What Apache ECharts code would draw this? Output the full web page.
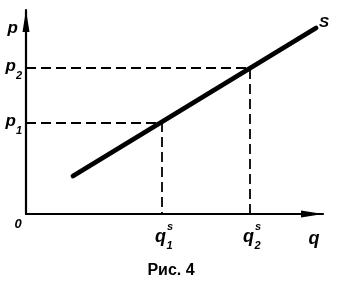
<!DOCTYPE html>
<html>
<head>
<meta charset="utf-8">
<script src="https://cdn.jsdelivr.net/npm/echarts@6/dist/echarts.min.js"></script>
<style>
html,body{margin:0;padding:0;background:#fff;}
#chart{width:342px;height:285px;}
</style>
</head>
<body>
<div id="chart"></div>
<script>
// Supply curve S (q, p)
var supplyQ = [47, 290];
var supplyP = [38, 186];
// Marked points on the supply curve
var qValues = [136, 224];
var pValues = [91, 146];
var pLabels = ['1', '2'];
var qLabels = ['1', '2'];
var titleText = 'Рис. 4';

var FONT = 'Liberation Sans';
var chart = echarts.init(document.getElementById('chart'), null, {renderer: 'canvas'});

var supplyData = supplyQ.map(function (q, i) { return [q, supplyP[i]]; });
var guideSeries = qValues.map(function (q, i) {
  return {
    type: 'line',
    data: [[0, pValues[i]], [q, pValues[i]], [q, 0]],
    symbol: 'none',
    silent: true,
    lineStyle: {color: '#000', width: 1.8, type: [10, 5]},
    z: 1
  };
});

var txt = {fontFamily: FONT, fontStyle: 'italic', fontWeight: 'bold', color: '#000'};
function st(extra) { return Object.assign({}, txt, extra); }

var option = {
  backgroundColor: '#fff',
  animation: false,
  title: {
    text: titleText,
    left: 'center',
    top: 258,
    textStyle: {fontFamily: FONT, fontSize: 16, fontWeight: 'bold', color: '#000'}
  },
  grid: {left: 26, top: 10, width: 297, height: 204},
  xAxis: {
    type: 'value', min: 0, max: 297,
    splitLine: {show: false},
    axisTick: {show: false},
    axisLine: {show: true, lineStyle: {color: '#000', width: 2.2}, symbol: ['none', 'triangle'], symbolSize: [7, 22], symbolOffset: [0, -11]},
    name: 'q',
    nameLocation: 'end',
    nameGap: -9,
    nameTextStyle: st({fontSize: 18, align: 'center', verticalAlign: 'top', padding: [16, 0, 0, 0]}),
    axisLabel: {
      show: true,
      customValues: [0].concat(qValues),
      margin: 2,
      formatter: function (v) {
        if (v === 0) return '{zero|0}';
        var i = qValues.indexOf(v);
        return '{gap|}{sup|s}\n{q|q}{sub|' + qLabels[i] + '}';
      },
      rich: {
        zero: st({fontSize: 13, padding: [2, 16, 0, 0]}),
        gap: {width: 16, fontSize: 10, height: 10, lineHeight: 12},
        sup: st({width: 6, fontSize: 11, lineHeight: 12, padding: [10, 0, 0, 0]}),
        q: st({width: 11, fontSize: 18, verticalAlign: 'top', padding: [0, 0, 0, 4]}),
        sub: st({width: 7, fontSize: 11, verticalAlign: 'bottom', padding: [12, 0, 0, 0]})
      }
    }
  },
  yAxis: {
    type: 'value', min: 0, max: 204,
    splitLine: {show: false},
    axisTick: {show: false},
    axisLine: {show: true, lineStyle: {color: '#000', width: 2.2}, symbol: ['none', 'triangle'], symbolSize: [7, 22], symbolOffset: [0, -11]},
    name: 'p',
    nameLocation: 'end',
    nameGap: -10,
    nameTextStyle: st({fontSize: 17, align: 'right', verticalAlign: 'top', padding: [0, 8, 0, 0]}),
    axisLabel: {
      show: true,
      customValues: pValues,
      margin: 4,
      formatter: function (v) {
        var i = pValues.indexOf(v);
        return '{p|p}{sub|' + pLabels[i] + '}';
      },
      rich: {
        p: st({fontSize: 17, verticalAlign: 'top', padding: [3, 0, 0, 0]}),
        sub: st({fontSize: 11, verticalAlign: 'bottom', padding: [16, 0, 0, 0]})
      }
    }
  },
  series: guideSeries.concat([{
    type: 'line',
    data: supplyData,
    symbol: 'none',
    silent: true,
    lineStyle: {color: '#000', width: 4.8, cap: 'round'},
    z: 3,
    endLabel: {
      show: true,
      formatter: 'S',
      fontFamily: FONT, fontSize: 15, fontStyle: 'italic', fontWeight: 'bold', color: '#000',
      distance: 3,
      offset: [0, -5]
    }
  }])
};
chart.setOption(option);
</script>
</body>
</html>
